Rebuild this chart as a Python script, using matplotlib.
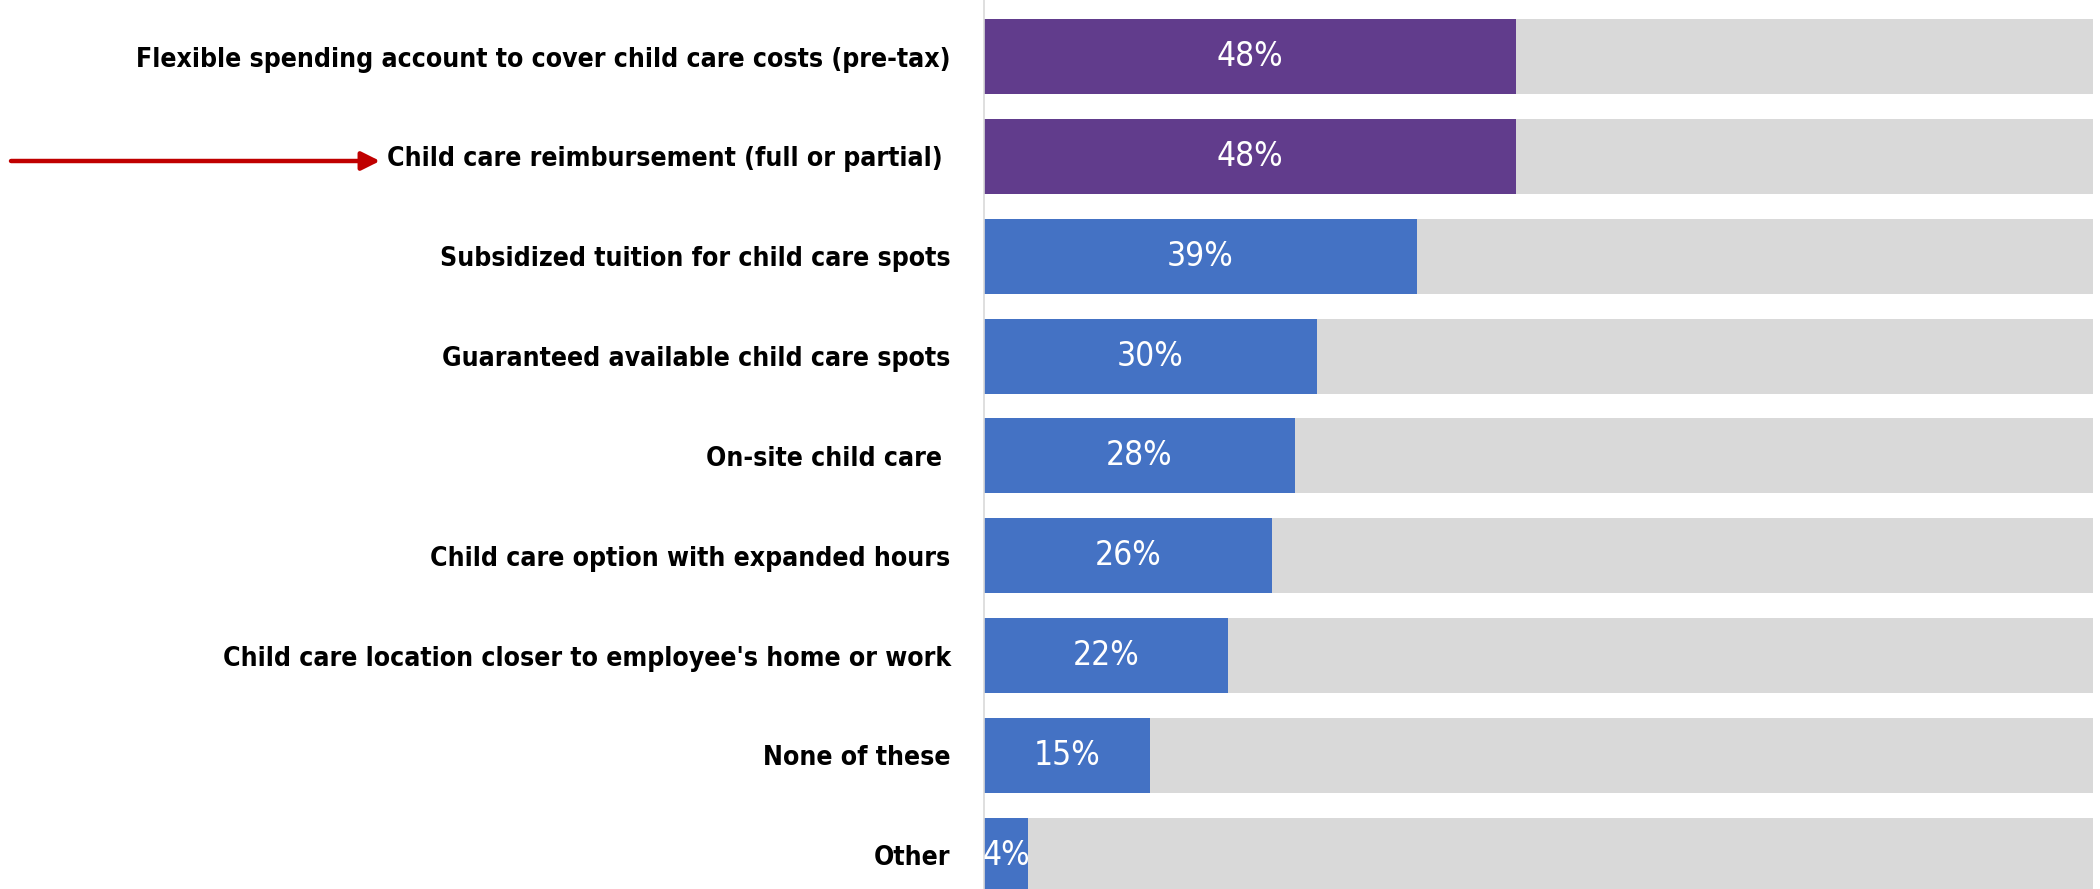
import matplotlib.pyplot as plt
from matplotlib import font_manager
from matplotlib.font_manager import FontProperties

labels = [
    "Flexible spending account to cover child care costs (pre-tax)",
    "Child care reimbursement (full or partial) ",
    "Subsidized tuition for child care spots",
    "Guaranteed available child care spots",
    "On-site child care ",
    "Child care option with expanded hours",
    "Child care location closer to employee's home or work",
    "None of these",
    "Other",
]
values = [48, 48, 39, 30, 28, 26, 22, 15, 4]
highlight = [True, True, False, False, False, False, False, False, False]

purple = "#613C8C"
blue = "#4472C4"
gray = "#D9D9D9"


# look for a condensed / narrow face, the original uses a condensed font
def find_font(bold):
    for f in font_manager.fontManager.ttflist:
        fn = f.fname.lower()
        if ("condensed" in fn or "narrow" in fn) and ("oblique" not in fn and "italic" not in fn):
            if bold == ("bold" in fn):
                return f.fname
    return None


bold_path = find_font(True)
reg_path = find_font(False)
lab_fp = FontProperties(fname=bold_path) if bold_path else FontProperties(family="DejaVu Sans", weight="bold")
val_fp = FontProperties(fname=reg_path) if reg_path else FontProperties(family="DejaVu Sans")

fig = plt.figure(figsize=(21, 8.89), dpi=100)
ax = fig.add_axes([984 / 2100, 0, (2093 - 984) / 2100, 1])

pos = list(range(len(labels)))
colors = [purple if h else blue for h in highlight]
ax.barh(pos, [100] * len(pos), height=0.75, color=gray, zorder=1)
ax.barh(pos, values, height=0.75, color=colors, zorder=2)

for p, v in zip(pos, values):
    ax.text(v / 2, p, f"{v}%", ha="center", va="center", color="white",
            fontproperties=val_fp, fontsize=24, zorder=3)

ax.set_xlim(0, 100)
ax.set_ylim(8.337, -0.566)
ax.set_yticks(pos)
ax.set_yticklabels(labels, fontproperties=lab_fp, fontsize=20)
ax.tick_params(axis="y", length=0, pad=24)
ax.set_xticks([])
for s in ["top", "right", "bottom"]:
    ax.spines[s].set_visible(False)
ax.spines["left"].set_color("#D9D9D9")
ax.spines["left"].set_linewidth(1.2)

# fit the longest label to the width it has in the original (about 817 px)
fig.canvas.draw()
r = fig.canvas.get_renderer()
w = ax.get_yticklabels()[0].get_window_extent(r).width
size = 20 * 817 / w
for t in ax.get_yticklabels():
    t.set_fontsize(size)

# red arrow pointing at the reimbursement row
y_arr = 1 - 161 / 889
ax.annotate("", xy=(380 / 2100, y_arr), xycoords="figure fraction",
            xytext=(11 / 2100, y_arr), textcoords="figure fraction",
            arrowprops=dict(arrowstyle="-|>,head_length=0.5,head_width=0.25",
                            mutation_scale=22, color="#C00000", lw=3.2,
                            shrinkA=0, shrinkB=0))

fig.savefig("out.png", dpi=100)
